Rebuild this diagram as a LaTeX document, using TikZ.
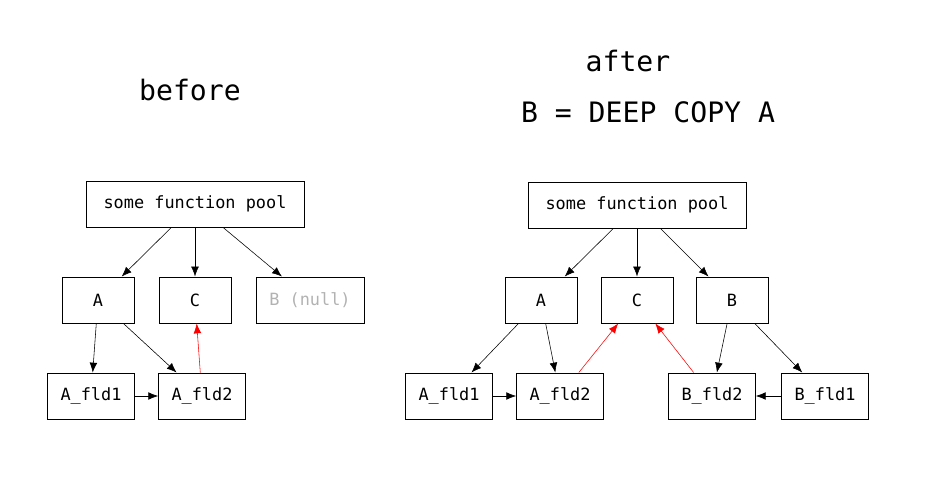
\documentclass[tikz,border=0pt]{standalone}
\usepackage{fontspec}
\setmonofont{DejaVu Sans Mono}
\usetikzlibrary{arrows.meta}
\tikzset{
  box/.style={draw, font=\ttfamily\fontsize{12}{14}\selectfont, minimum height=33pt, inner sep=2pt},
  sbox/.style={box, minimum width=51pt},
  fbox/.style={box, minimum width=62pt},
  edge/.style={-{Latex[length=7pt,width=5.5pt]}},
  ptr/.style={edge, red},
  title/.style={font=\ttfamily\fontsize{20}{24}\selectfont}
}
\begin{document}
\begin{tikzpicture}[x=0.025cm, y=-0.025cm]
\useasboundingbox (0,0) rectangle (928,487);
% Titel
\node[title] (tbefore) at (190,90) {before};
\node[title] (tafter) at (628,61) {after};
\node[title] (tcopy) at (648,112) {B = DEEP COPY A};
% vorher
\node[box, minimum width=155pt] (pool) at (195,204) {some function pool};
\node[sbox] (a) at (98,300) {A};
\node[sbox] (c) at (195,300) {C};
\node[box, minimum width=77pt, text=black!30] (bnull) at (310,300) {B (null)};
\node[fbox] (af1) at (91,396) {A\_fld1};
\node[fbox] (af2) at (202,396) {A\_fld2};
\draw[edge] (pool) -- (a);
\draw[edge] (pool) -- (c);
\draw[edge] (pool) -- (bnull);
\draw[edge] (a) -- (af1);
\draw[edge] (a) -- (af2);
\draw[edge] (af1) -- (af2);
\draw[ptr] (af2) -- (c);
% nachher
\node[box, minimum width=155pt] (pool2) at (637,205) {some function pool};
\node[sbox] (a2) at (541,300) {A};
\node[sbox] (c2) at (637,300) {C};
\node[sbox] (b2) at (732,300) {B};
\node[fbox] (af12) at (449,396) {A\_fld1};
\node[fbox] (af22) at (560,396) {A\_fld2};
\node[fbox] (bf2) at (712,396) {B\_fld2};
\node[fbox] (bf1) at (825,396) {B\_fld1};
\draw[edge] (pool2) -- (a2);
\draw[edge] (pool2) -- (c2);
\draw[edge] (pool2) -- (b2);
\draw[edge] (a2) -- (af12);
\draw[edge] (a2) -- (af22);
\draw[edge] (af12) -- (af22);
\draw[edge] (b2) -- (bf2);
\draw[edge] (b2) -- (bf1);
\draw[edge] (bf1) -- (bf2);
\draw[ptr] (af22) -- (c2);
\draw[ptr] (bf2) -- (c2);
\end{tikzpicture}
\end{document}
